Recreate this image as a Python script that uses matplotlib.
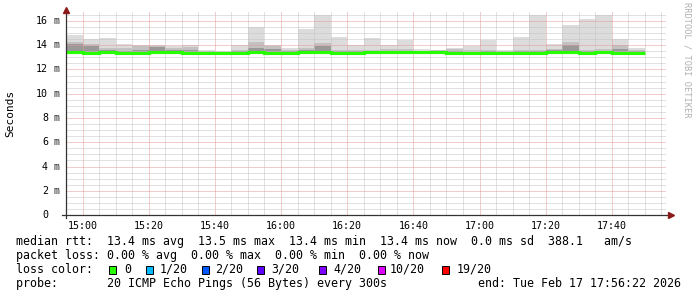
import numpy as np
import matplotlib
matplotlib.use("Agg")
import matplotlib.pyplot as plt
from matplotlib.patches import Rectangle
from matplotlib.transforms import blended_transform_factory

# 5 minute bins, minutes relative to 15:00 (first bin starts 14:55)
bin_edges = np.arange(-5, 171, 5)

# smoke (ms): light = max, medium / dark = inner pings, bottom = fastest ping
smoke_max = [14.87, 14.5, 14.6, 14.1, 14.0, 14.0, 13.9, 14.0, 13.6, 13.5,
             14.0, 15.5, 14.0, 13.8, 15.3, 16.5, 14.65, 14.0, 14.6, 14.0,
             14.4, 13.7, 13.6, 13.8, 13.95, 14.45, 13.6, 14.7, 16.5, 14.1,
             15.7, 16.15, 16.5, 14.5, 13.8]
smoke_mid = [14.3, 14.1, 13.8, 13.75, 13.9, 13.95, 13.75, 13.85, 13.5, 13.45,
             13.6, 14.3, 13.9, 13.6, 13.8, 14.2, 13.6, 13.6, 13.6, 13.7,
             13.7, 13.55, 13.6, 13.65, 13.6, 13.6, 13.5, 13.6, 13.6, 13.7,
             14.3, 13.6, 13.7, 14.0, 13.6]
smoke_dark = [14.1, 13.9, 13.6, 13.55, 13.6, 13.85, 13.6, 13.6, 13.45, 13.42,
              13.5, 13.8, 13.7, 13.5, 13.6, 13.95, 13.5, 13.5, 13.5, 13.5,
              13.5, 13.5, 13.55, 13.5, 13.45, 13.5, 13.45, 13.5, 13.5, 13.6,
              14.0, 13.5, 13.55, 13.65, 13.5]
smoke_min = [13.3, 13.28, 13.3, 13.3, 13.28, 13.3, 13.3, 13.25, 13.3, 13.32,
             13.25, 13.3, 13.25, 13.3, 13.3, 13.3, 13.3, 13.3, 13.3, 13.3,
             13.3, 13.32, 13.3, 13.28, 13.25, 13.3, 13.3, 13.3, 13.3, 13.3,
             13.3, 13.28, 13.3, 13.3, 13.3]
median_rtt = [13.42, 13.40, 13.42, 13.40, 13.40, 13.44, 13.42, 13.40, 13.40, 13.40,
              13.40, 13.42, 13.40, 13.38, 13.42, 13.42, 13.40, 13.40, 13.42, 13.42,
              13.42, 13.42, 13.44, 13.40, 13.40, 13.40, 13.40, 13.40, 13.40, 13.42,
              13.48, 13.40, 13.42, 13.40, 13.40]

y_ticks = [0, 2, 4, 6, 8, 10, 12, 14, 16]
x_ticks = [0, 20, 40, 60, 80, 100, 120, 140, 160]
x_labels = ["15:00", "15:20", "15:40", "16:00", "16:20", "16:40", "17:00", "17:20", "17:40"]

loss_labels = ["0", "1/20", "2/20", "3/20", "4/20", "10/20", "19/20"]
loss_colors = ["#26ff00", "#00b8ff", "#0059ff", "#5e00ff", "#7e00ff", "#dd00ff", "#ff0000"]

W, H = 697, 297
mono = "DejaVu Sans Mono"

fig = plt.figure(figsize=(W / 100, H / 100), dpi=100)
ax = fig.add_axes([66 / W, 82 / H, 600 / W, 16.8 * 12.125 / H])
ax.set_xlim(-3.633, 176.367)
ax.set_ylim(0, 16.8)

ax.stairs(smoke_max, bin_edges, baseline=smoke_min, fill=True, color="#dcdcdc", lw=0, zorder=1)
ax.stairs(smoke_mid, bin_edges, baseline=smoke_min, fill=True, color="#c2c2c2", lw=0, zorder=1.1)
ax.stairs(smoke_dark, bin_edges, baseline=smoke_min, fill=True, color="#999999", lw=0, zorder=1.2)
ax.stairs(median_rtt, bin_edges, baseline=None, color="#26ff00", lw=2.2, zorder=3)

# grid
ax.set_xticks(x_ticks)
ax.set_xticks([t for t in range(-5, 180, 5) if t not in x_ticks], minor=True)
ax.set_yticks(y_ticks)
ax.set_yticks([v / 2 for v in range(0, 34) if v % 4], minor=True)
ax.set_axisbelow(False)
ax.grid(which="minor", color="#c4c4c4", ls=(0, (1, 1)), lw=0.72)
ax.grid(which="major", color="#e39a9a", ls=(0, (1, 1)), lw=0.72)
ax.set_xticklabels(x_labels, fontfamily=mono, fontsize=7.2)
ax.tick_params(which="both", left=False, labelleft=False, length=0)
ax.tick_params(axis="x", pad=4.5, labelcolor="black")
for s in ax.spines.values():
    s.set_visible(False)

# axis lines with arrows
ax.plot([0, 0], [-0.015, 1.0], transform=ax.transAxes, color="#333333", lw=0.9, clip_on=False, zorder=4)
ax.plot([-0.007, 1.005], [0, 0], transform=ax.transAxes, color="#333333", lw=0.9, clip_on=False, zorder=4)
ax.plot([0], [1.005], marker="^", ms=4.5, color="#8b1a1a", transform=ax.transAxes, clip_on=False, zorder=5)
ax.plot([1.008], [0], marker=">", ms=4.5, color="#8b1a1a", transform=ax.transAxes, clip_on=False, zorder=5)

# y tick labels, number and unit drawn separately
ytr = blended_transform_factory(fig.transFigure, ax.transData)
for v in y_ticks:
    fig.text(48 / W, v, str(v), transform=ytr, fontfamily=mono, fontsize=7.2, ha="right", va="center")
    if v:
        fig.text(54 / W, v, "m", transform=ytr, fontfamily=mono, fontsize=7.2, ha="left", va="center",
                 color="#333333")

fig.text(10 / W, 1 - 113 / H, "Seconds", rotation=90, fontfamily=mono, fontsize=8, ha="center", va="center")
fig.text(687 / W, 1 - 60 / H, "RRDTOOL / TOBI OETIKER", rotation=270, fontfamily=mono, fontsize=6.2,
         color="#b0b0b0", ha="center", va="center")


def ftext(x, y, s, **kw):
    fig.text(x / W, 1 - y / H, s, fontfamily=mono, fontsize=8.4, va="center", **kw)


ftext(16, 241.5, "median rtt:  13.4 ms avg  13.5 ms max  13.4 ms min  13.4 ms now  0.0 ms sd  388.1   am/s")
ftext(16, 255.5, "packet loss: 0.00 % avg  0.00 % max  0.00 % min  0.00 % now")
ftext(16, 269.5, "loss color:")
box_x = [109, 146, 202, 257, 319, 378, 442]
lab_x = [124, 160, 215, 271, 333, 390, 457]
for bx, lx, lab, col in zip(box_x, lab_x, loss_labels, loss_colors):
    fig.add_artist(Rectangle((bx / W, 1 - 274 / H), 7 / W, 8.5 / H, transform=fig.transFigure,
                             facecolor=col, edgecolor="black", lw=0.7))
    ftext(lx, 269.5, lab)
ftext(16, 283.5, "probe:       20 ICMP Echo Pings (56 Bytes) every 300s")
ftext(681, 283.5, "end: Tue Feb 17 17:56:22 2026", ha="right")

fig.savefig("out.png", dpi=100, facecolor="white")
